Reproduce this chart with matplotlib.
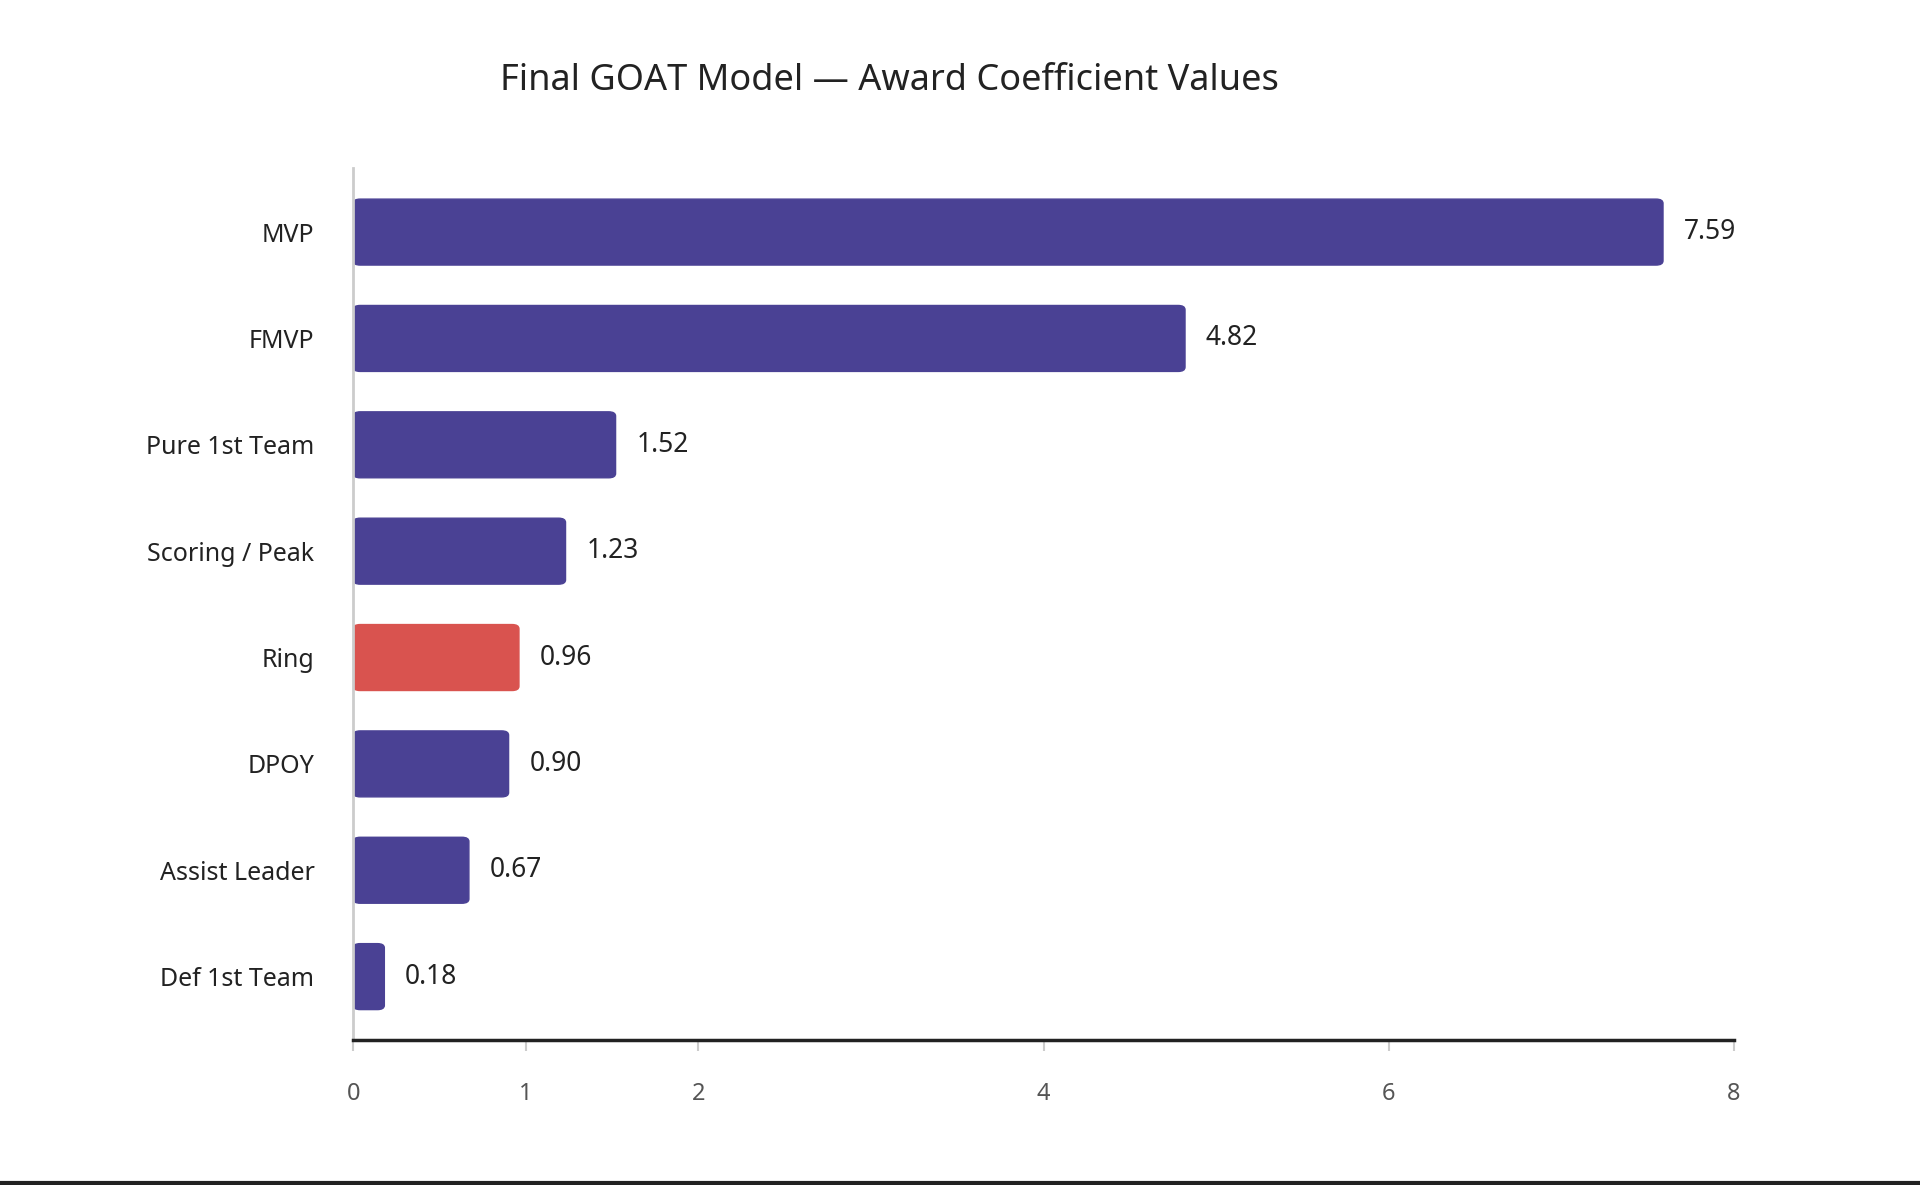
import matplotlib
matplotlib.use("Agg")
import matplotlib.pyplot as plt
from matplotlib.patches import FancyBboxPatch
from matplotlib.lines import Line2D

plt.rcParams['font.family'] = ['Noto Sans', 'DejaVu Sans']

categories = ["MVP", "FMVP", "Pure 1st Team", "Scoring / Peak", "Ring", "DPOY", "Assist Leader", "Def 1st Team"]
values = [7.59, 4.82, 1.52, 1.23, 0.96, 0.90, 0.67, 0.18]
highlight = "Ring"
xticks = [0, 1, 2, 4, 6, 8]

fig = plt.figure(figsize=(19.2, 11.85), dpi=100)
ax = fig.add_axes([0.184, 0.122, 0.719, 0.736])
purple = "#4a4194"
red = "#d9534f"
n = len(categories)
h = 0.62
for i, (c, v) in enumerate(zip(categories, values)):
    y = n - 1 - i
    col = red if c == highlight else purple
    ax.add_patch(FancyBboxPatch((0, y - h/2), v, h, boxstyle="round,pad=0,rounding_size=0.04",
                                mutation_aspect=1/ (8/ (n)) , fc=col, ec=col, lw=1))
    ax.text(v + 0.12, y, f"{v:.2f}", va="center", ha="left", fontsize=19, fontweight="bold", color="#222222")
ax.set_xlim(0, 8)
ax.set_ylim(-0.6, n - 0.4)
ax.set_yticks(range(n))
ax.set_yticklabels(categories[::-1], fontsize=18, color="#222222")
ax.set_xticks(xticks)
ax.set_xticklabels([str(t) for t in xticks], fontsize=17, color="#555555")
ax.tick_params(axis='y', length=0, pad=28)
ax.tick_params(axis='x', length=8, width=1.5, color="#cccccc", pad=22)
for s in ["top", "right"]:
    ax.spines[s].set_visible(False)
ax.spines["left"].set_color("#cccccc")
ax.spines["left"].set_linewidth(2)
ax.spines["bottom"].set_color("#222222")
ax.spines["bottom"].set_linewidth(2.5)
fig.text(0.463, 0.932, "Final GOAT Model — Award Coefficient Values", ha="center", va="center",
         fontsize=26, fontweight="bold", color="#222222")
fig.add_artist(Line2D([0, 1], [0.002, 0.002], color="#222222", lw=3, transform=fig.transFigure))
fig.savefig("out.png", dpi=100)
